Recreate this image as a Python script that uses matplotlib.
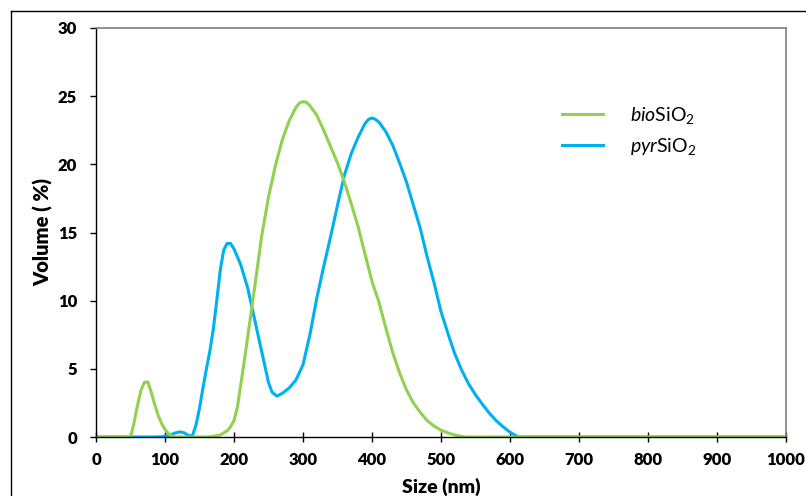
import matplotlib.pyplot as plt
from matplotlib.lines import Line2D

# particle size distributions (volume %)
bio_size = [0, 50, 55, 60, 65, 70, 75, 80, 85, 90, 95, 100, 105, 110, 115,
            160, 170, 180, 190, 195, 200, 205, 210, 215, 220, 230, 240, 250, 260,
            270, 280, 290, 295, 300, 305, 310, 320, 330, 340, 350, 360, 370, 380,
            390, 400, 410, 420, 430, 440, 450, 460, 470, 480, 490, 500, 510, 520,
            530, 535, 1000]
bio_vol = [0, 0, 1.0, 2.3, 3.4, 4.0, 4.05, 3.3, 2.4, 1.6, 1.0, 0.55, 0.25, 0.08, 0,
           0, 0.05, 0.15, 0.45, 0.75, 1.2, 2.2, 3.9, 5.6, 7.4, 11.0, 14.7, 17.6, 19.9,
           21.8, 23.2, 24.2, 24.5, 24.6, 24.55, 24.3, 23.6, 22.5, 21.3, 20.1, 18.7, 17.1, 15.4,
           13.4, 11.4, 9.9, 8.0, 6.2, 4.7, 3.45, 2.5, 1.8, 1.2, 0.8, 0.5, 0.3, 0.15,
           0.04, 0, 0]

pyr_size = [0, 85, 95, 105, 115, 122, 128, 135, 140, 145, 150, 155, 160, 165,
            170, 175, 180, 185, 190, 195, 200, 210, 220, 230, 240, 250, 255, 262,
            270, 280, 290, 300, 310, 320, 330, 340, 350, 360, 370, 380, 390, 395,
            400, 405, 410, 420, 430, 440, 450, 460, 470, 480, 490, 500, 510, 520,
            530, 540, 550, 560, 570, 580, 590, 600, 612, 1000]
pyr_vol = [0, 0, 0.02, 0.1, 0.3, 0.38, 0.3, 0.08, 0.12, 0.9, 2.1, 3.6, 5.0, 6.3,
           7.9, 10.0, 12.2, 13.7, 14.2, 14.2, 13.8, 12.6, 10.9, 8.6, 6.3, 4.0, 3.3, 3.0,
           3.2, 3.6, 4.2, 5.3, 7.5, 10.2, 12.5, 14.7, 17.0, 19.2, 20.8, 22.0, 23.0, 23.3,
           23.4, 23.3, 23.1, 22.4, 21.4, 20.1, 18.7, 17.0, 15.3, 13.2, 11.3, 9.2, 7.6, 6.1,
           4.9, 3.9, 3.1, 2.4, 1.75, 1.2, 0.75, 0.35, 0, 0]

labels = [r'$\mathit{bio}$SiO$_2$', r'$\mathit{pyr}$SiO$_2$']
colors = ['#92D050', '#00B0F0']

plt.rcParams['font.family'] = 'Lato'
plt.rcParams['mathtext.fontset'] = 'custom'
plt.rcParams['mathtext.rm'] = 'Lato'
plt.rcParams['mathtext.it'] = 'Lato:italic'

fig = plt.figure(figsize=(8.06, 4.96), dpi=100)
ax = fig.add_axes([96 / 806, 59 / 496, 690 / 806, 409 / 496])

l_pyr, = ax.plot(pyr_size, pyr_vol, color=colors[1], lw=2.2,
                 solid_joinstyle='round')
l_bio, = ax.plot(bio_size, bio_vol, color=colors[0], lw=2.2,
                 solid_joinstyle='round')

ax.set_xlim(0, 1000)
ax.set_ylim(0, 30)
ax.set_xticks(range(0, 1001, 100))
ax.set_yticks(range(0, 31, 5))
ax.tick_params(axis='x', direction='inout', length=7, width=1, pad=7, labelsize=12)
ax.tick_params(axis='y', direction='out', length=4.5, width=1, pad=9, labelsize=12)
for lab in ax.get_xticklabels() + ax.get_yticklabels():
    lab.set_fontweight('heavy')

for side in ['left', 'bottom']:
    ax.spines[side].set_color('black')
    ax.spines[side].set_linewidth(1)
for side in ['top', 'right']:
    ax.spines[side].set_color('#7f7f7f')
    ax.spines[side].set_linewidth(1.2)

ax.set_xlabel('Size (nm)', fontsize=14, fontweight='heavy', labelpad=7)
ax.set_ylabel('Volume ( %)', fontsize=14.5, fontweight='heavy', labelpad=3)

ax.legend([l_bio, l_pyr], labels, frameon=False, fontsize=14,
          loc='upper left', bbox_to_anchor=(0.65, 0.855),
          handlelength=2.1, handletextpad=1.4, labelspacing=0.5)

# outer frame of the original figure
fig.add_artist(Line2D([11 / 806, 11 / 806], [0, 1 - 11 / 496], color='black', lw=1))
fig.add_artist(Line2D([11 / 806, 1], [1 - 11 / 496, 1 - 11 / 496], color='black', lw=1))

fig.savefig('out.png', dpi=100)
